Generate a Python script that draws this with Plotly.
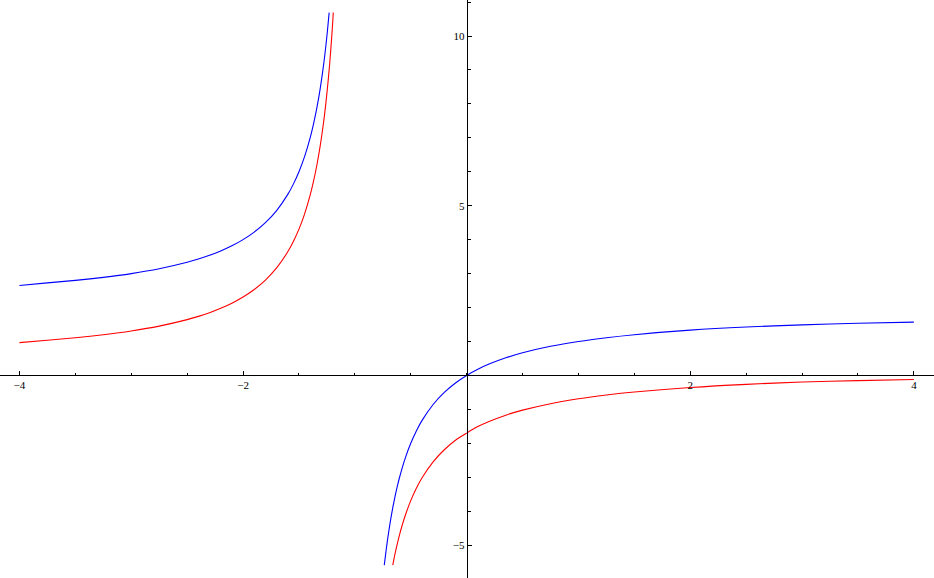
import plotly.graph_objects as go

# ---- data ----
blue_left_x = [-4, -3.75, -3.5, -3.25, -3, -2.75, -2.5, -2.4, -2.3, -2.2, -2.1, -2, -1.9, -1.8,
               -1.7, -1.6, -1.55, -1.5, -1.45, -1.4, -1.37, -1.34, -1.31, -1.28, -1.26, -1.245,
               -1.23]
blue_left_y = [2.65, 2.727, 2.8, 2.889, 3.0, 3.143, 3.333, 3.429, 3.538, 3.667, 3.818, 4.0, 4.222,
               4.5, 4.857, 5.333, 5.636, 6.0, 6.444, 7.0, 7.405, 7.882, 8.452, 9.143, 9.692,
               10.163, 10.69]

blue_right_x = [-0.737, -0.73, -0.72, -0.71, -0.7, -0.68, -0.66, -0.64, -0.62, -0.6, -0.55, -0.5,
                -0.45, -0.4, -0.3, -0.2, -0.1, 0, 0.1, 0.2, 0.35, 0.5, 0.75, 1, 1.25, 1.5, 2,
                2.5, 3, 3.5, 4]
blue_right_y = [-5.59, -5.407, -5.143, -4.897, -4.667, -4.25, -3.882, -3.556, -3.263, -3.0, -2.444,
                -2.0, -1.636, -1.333, -0.857, -0.5, -0.222, 0, 0.182, 0.333, 0.519, 0.667, 0.857,
                1.0, 1.111, 1.2, 1.333, 1.425, 1.49, 1.535, 1.57]

red_left_x = [-4, -3.75, -3.5, -3.25, -3, -2.75, -2.5, -2.4, -2.3, -2.2, -2.1, -2, -1.9, -1.8,
              -1.7, -1.6, -1.55, -1.5, -1.45, -1.4, -1.37, -1.34, -1.31, -1.28, -1.26, -1.24,
              -1.225, -1.21, -1.2, -1.193]
red_left_y = [0.965, 1.037, 1.11, 1.199, 1.31, 1.453, 1.643, 1.739, 1.848, 1.977, 2.128, 2.31,
              2.532, 2.81, 3.167, 3.643, 3.946, 4.31, 4.754, 5.31, 5.715, 6.192, 6.762, 7.453,
              8.002, 8.643, 9.199, 9.834, 10.31, 10.69]

red_right_x = [-0.661, -0.655, -0.65, -0.64, -0.63, -0.62, -0.6, -0.58, -0.55, -0.5, -0.45, -0.4,
               -0.3, -0.2, -0.1, 0, 0.1, 0.2, 0.35, 0.5, 0.75, 1, 1.25, 1.5, 2, 2.5, 3, 3.5, 4]
red_right_y = [-5.59, -5.487, -5.404, -5.246, -5.095, -4.953, -4.69, -4.452, -4.134, -3.69, -3.326,
               -3.023, -2.547, -2.19, -1.912, -1.70, -1.508, -1.357, -1.171, -1.023, -0.833, -0.69,
               -0.579, -0.49, -0.357, -0.263, -0.195, -0.155, -0.12]

x_tick_vals = [-4, -2, 2, 4]
x_tick_text = ["\u22124", "\u22122", "2", "4"]
y_tick_vals = [-5, 5, 10]
y_tick_text = ["\u22125", "5", "10"]

x_range = [-4.174, 4.180]
y_range = [-5.969, 11.061]

fig = go.Figure()
line_style = dict(width=1.1, shape="spline", smoothing=0.8)
for xs, ys, col in [(blue_left_x, blue_left_y, "#0000ff"),
                    (blue_right_x, blue_right_y, "#0000ff"),
                    (red_left_x, red_left_y, "#ff0000"),
                    (red_right_x, red_right_y, "#ff0000")]:
    fig.add_trace(go.Scatter(x=xs, y=ys, mode="lines",
                             line=dict(color=col, **line_style),
                             showlegend=False, hoverinfo="skip"))

x_pos = (0 - y_range[0]) / (y_range[1] - y_range[0])
y_pos = (0 - x_range[0]) / (x_range[1] - x_range[0])

tick_font = dict(family="Liberation Serif", size=11, color="black")

fig.update_layout(
    width=934, height=578,
    margin=dict(l=0, r=0, t=0, b=0),
    paper_bgcolor="white", plot_bgcolor="white",
    xaxis=dict(range=x_range, anchor="free", position=x_pos, side="bottom",
               automargin=False,
               showline=True, linecolor="black", linewidth=1,
               showgrid=False, zeroline=False,
               tickmode="array", tickvals=x_tick_vals, ticktext=x_tick_text,
               ticks="inside", ticklen=4, tickwidth=1, tickcolor="black",
               tickfont=tick_font, ticklabelstandoff=-1,
               minor=dict(dtick=0.5, tick0=0, ticks="inside", ticklen=2,
                          tickwidth=1, tickcolor="black", showgrid=False)),
    yaxis=dict(range=y_range, anchor="free", position=y_pos, side="left",
               automargin=False,
               showline=True, linecolor="black", linewidth=1,
               showgrid=False, zeroline=False,
               tickmode="array", tickvals=y_tick_vals, ticktext=y_tick_text,
               ticks="inside", ticklen=4, tickwidth=1, tickcolor="black",
               tickfont=tick_font,
               minor=dict(dtick=1, tick0=0, ticks="inside", ticklen=3,
                          tickwidth=1, tickcolor="black", showgrid=False)),
)

fig.write_html("out.html", config={"displayModeBar": False},
               post_script="document.body.style.margin='0';")
